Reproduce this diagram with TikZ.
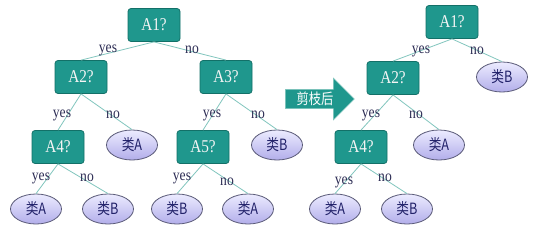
\documentclass[tikz,border=0pt]{standalone}
\usepackage{fontspec}
\setmainfont{Liberation Serif}[FakeStretch=0.85]
\newfontfamily\cjk{Noto Sans CJK SC}[FakeStretch=0.82]
\usetikzlibrary{shapes.geometric,shapes.arrows}
\definecolor{tealfill}{HTML}{1F978D}
\definecolor{tealedge}{HTML}{137068}
\definecolor{leaftop}{HTML}{ECEBFF}
\definecolor{leafbot}{HTML}{B2AEEA}
\definecolor{leafedge}{HTML}{5A5A78}
\definecolor{leaftext}{HTML}{22226A}
\definecolor{edgecol}{HTML}{82C6BE}
\definecolor{lbltext}{HTML}{2E2E55}
\begin{document}
\begin{tikzpicture}[x=1pt,y=-1pt,
  test/.style={draw=tealedge, line width=0.8pt, fill=tealfill, rounded corners=3pt,
    minimum width=52pt, minimum height=33pt, inner sep=0pt, text=white!92!gray,
    font=\fontsize{18}{18}\selectfont},
  leaf/.style={ellipse, draw=leafedge, line width=0.8pt, top color=leaftop, bottom color=leafbot,
    minimum width=51pt, minimum height=30pt, inner sep=0pt, text=leaftext,
    font=\cjk\fontsize{15.5}{15.5}\selectfont},
  branch/.style={draw=edgecol, line width=0.8pt},
  lbl/.style={text=lbltext, inner sep=0pt, font=\fontsize{16}{16}\selectfont}]
\useasboundingbox[fill=white] (0,0) rectangle (543,244);

% ---- full tree ----
\node[test] (a1) at (154,25) {A1?};
\node[test] (a2) at (81,77) {A2?};
\node[test] (a3) at (226,77) {A3?};
\node[test] (a4) at (58,147) {A4?};
\node[leaf] (a2no) at (132,145) {类A};
\node[test] (a5) at (203,147) {A5?};
\node[leaf] (a3no) at (277,145) {类B};
\node[leaf] (a4yes) at (36,209) {类A};
\node[leaf] (a4no) at (108,209) {类B};
\node[leaf] (a5yes) at (177,209) {类B};
\node[leaf] (a5no) at (248,209) {类A};

\draw[branch] (a1.south) -- (a2.north);
\draw[branch] (a1.south) -- (a3.north);
\draw[branch] (a2.south) -- (a4.north);
\draw[branch] (a2.south) -- (a2no.north);
\draw[branch] (a3.south) -- (a5.north);
\draw[branch] (a3.south) -- (a3no.north);
\draw[branch] (a4.south) -- (a4yes.north);
\draw[branch] (a4.south) -- (a4no.north);
\draw[branch] (a5.south) -- (a5yes.north);
\draw[branch] (a5.south) -- (a5no.north);

\node[lbl] (l1) at (108,50) {yes};
\node[lbl] (l2) at (192,50) {no};
\node[lbl] (l3) at (62,115) {yes};
\node[lbl] (l4) at (113,115) {no};
\node[lbl] (l5) at (212,115) {yes};
\node[lbl] (l6) at (258,115) {no};
\node[lbl] (l7) at (41,178) {yes};
\node[lbl] (l8) at (87,178) {no};
\node[lbl] (l9) at (182,178) {yes};
\node[lbl] (l10) at (227,182) {no};

% ---- pruning arrow ----
\node[single arrow, draw=edgecol, line width=0.6pt, fill=tealfill, minimum width=42pt,
  single arrow head extend=11pt, minimum height=69pt, inner sep=2pt, text=white,
  font=\cjk\fontsize{15}{15}\selectfont] (prune) at (315,99) {剪枝后};

% ---- pruned tree ----
\node[test] (b1) at (452,22) {A1?};
\node[test] (b2) at (393,78) {A2?};
\node[leaf] (b1no) at (502,77) {类B};
\node[test] (b4) at (361,147) {A4?};
\node[leaf] (b2no) at (439,145) {类A};
\node[leaf] (b4yes) at (335,209) {类A};
\node[leaf] (b4no) at (407,209) {类B};

\draw[branch] (b1.south) -- (b2.north);
\draw[branch] (b1.south) -- (b1no.north);
\draw[branch] (b2.south) -- (b4.north);
\draw[branch] (b2.south) -- (b2no.north);
\draw[branch] (b4.south) -- (b4yes.north);
\draw[branch] (b4.south) -- (b4no.north);

\node[lbl] (m1) at (421,51) {yes};
\node[lbl] (m2) at (477,51) {no};
\node[lbl] (m3) at (371,115) {yes};
\node[lbl] (m4) at (416,115) {no};
\node[lbl] (m5) at (344,182) {yes};
\node[lbl] (m6) at (385,178) {no};
\end{tikzpicture}
\end{document}
